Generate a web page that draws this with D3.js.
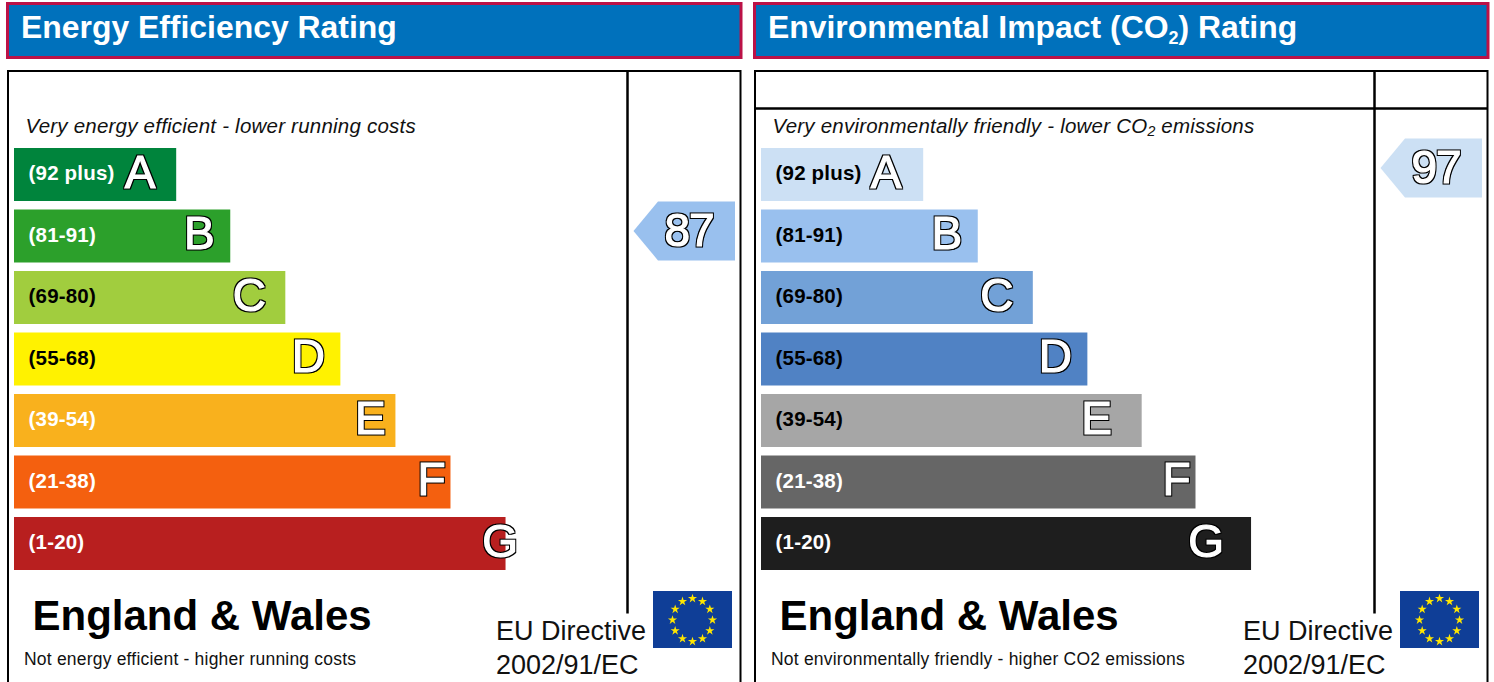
<!DOCTYPE html>
<html><head><meta charset="utf-8">
<script src="https://cdn.jsdelivr.net/npm/d3@7/dist/d3.min.js"></script>
<style>html,body{margin:0;padding:0;background:#fff}svg{display:block}text{font-family:"Liberation Sans",Arial,sans-serif}</style>
</head><body><svg id="c" width="1494" height="682"></svg>
<script>
const bands = ["A","B","C","D","E","F","G"];
const ranges = ["(92 plus)","(81-91)","(69-80)","(55-68)","(39-54)","(21-38)","(1-20)"];
const energyLengths = [32.7,43.6,54.7,65.8,76.9,88.0,99.1];
const co2Lengths = [32.7,43.7,54.8,65.8,76.75,87.6,98.8];
const energyScore = 87;
const co2Score = 97;
const titles = ["Energy Efficiency Rating","Environmental Impact (CO","2",") Rating"];
const topNotes = ["Very energy efficient - lower running costs","Very environmentally friendly - lower CO₂ emissions"];
const bottomNotes = ["Not energy efficient - higher running costs","Not environmentally friendly - higher CO2 emissions"];
const region = "England & Wales";
const directive = ["EU Directive","2002/91/EC"];

const energyColors = ["#00843c","#2ca02b","#a1cd3e","#fff200","#f9b11d","#f4600f","#b81f1f"];
const energyLabelColors = ["#fff","#fff","#000","#000","#fff","#fff","#fff"];
const co2Colors = ["#cce0f4","#99c0ee","#72a1d7","#5082c4","#a6a6a6","#666666","#1e1e1e"];
const co2LabelColors = ["#000","#000","#000","#000","#000","#fff","#fff"];
const energyLetterInset = [36,31,36,32,25,19,5.5];
const co2LetterInset = [37,31,36,32,45,19,45];

const svg = d3.select("#c");
const defs = svg.append("defs");
const f = defs.append("filter").attr("id","outline").attr("x","-20%").attr("y","-20%").attr("width","140%").attr("height","140%")
  .attr("color-interpolation-filters","sRGB");
f.append("feMorphology").attr("in","SourceAlpha").attr("operator","dilate").attr("radius",1).attr("result","d");
f.append("feFlood").attr("flood-color","#000").attr("result","k");
f.append("feComposite").attr("in","k").attr("in2","d").attr("operator","in").attr("result","o");
const fm = f.append("feMerge");
fm.append("feMergeNode").attr("in","o");
fm.append("feMergeNode").attr("in","SourceGraphic");

const x = d3.scaleLinear().domain([0,100]).range([0,496]);
const y = d3.scaleBand().domain(bands).range([148,570]).paddingInner(8.5/61.5).paddingOuter(0).align(0);
const scoreY = d3.scaleLinear().domain([0,100]).range([779,149]);

function outlined(sel){
  return sel.attr("fill","#fff").attr("stroke","#fff").attr("stroke-width",1.2).attr("stroke-linejoin","miter").attr("filter","url(#outline)");
}
function panel(ox, o){
  const g = svg.append("g").attr("transform",`translate(${ox},0)`);
  g.append("rect").attr("x",7.5).attr("y",3.5).attr("width",733.5).attr("height",54)
    .attr("fill","#0071bc").attr("stroke","#bb1247").attr("stroke-width",3);
  const t = g.append("text").attr("x",21).attr("y",38).attr("fill","#fff").attr("font-weight","bold").attr("font-size",31.9);
  o.title.forEach((s,i)=>{
    const ts=t.append("tspan").text(s);
    if(o.title.length>1 && i===1) ts.attr("font-size",18).attr("dy",6);
    if(o.title.length>1 && i===2) ts.attr("dy",-6);
  });
  g.append("rect").attr("x",8).attr("y",71).attr("width",732.5).attr("height",640)
    .attr("fill","#fff").attr("stroke","#000").attr("stroke-width",2);
  g.append("line").attr("x1",627.5).attr("x2",627.5).attr("y1",71).attr("y2",613.5).attr("stroke","#000").attr("stroke-width",2.5);
  if(o.rule) g.append("line").attr("x1",8).attr("x2",740.5).attr("y1",108.5).attr("y2",108.5).attr("stroke","#000").attr("stroke-width",2.5);
  g.append("text").attr("x",25.5).attr("y",133).attr("font-style","italic").attr("font-size",20.5).attr("letter-spacing",0.22).attr("fill","#111").text(o.top);
  const row = g.selectAll("g.row").data(bands).join("g").attr("class","row");
  row.append("rect").attr("x",14).attr("y",d=>y(d)).attr("height",y.bandwidth())
    .attr("width",(d,i)=>x(o.lengths[i])).attr("fill",(d,i)=>o.colors[i]);
  row.append("text").attr("x",28.5).attr("y",d=>y(d)+32).attr("font-weight","bold").attr("font-size",20.5).attr("letter-spacing",0.2)
    .attr("fill",(d,i)=>o.labels[i]).text((d,i)=>ranges[i]);
  outlined(row.append("text").attr("x",(d,i)=>14+x(o.lengths[i])-o.inset[i])
    .attr("text-anchor","middle").attr("y",d=>y(d)+39.5).attr("font-size",46).text(d=>d));
  const cy = scoreY(o.score);
  const arrow = d3.line().x(d=>d[0]).y(d=>cy+d[1]);
  g.append("path").attr("d",arrow([[633.5,0],[658,-29.5],[735,-29.5],[735,29.5],[658,29.5]])+"Z").attr("fill",o.arrow);
  outlined(g.append("text").attr("x",689).attr("y",cy+15.5).attr("text-anchor","middle").attr("font-size",46).attr("letter-spacing",-1).text(o.score));
  g.append("text").attr("x",32.5).attr("y",630).attr("font-weight","bold").attr("font-size",42).attr("fill","#000").text(region);
  g.append("text").attr("x",24).attr("y",665).attr("font-size",17.5).attr("letter-spacing",0.2).attr("fill","#111").text(o.bottom);
  directive.forEach((s,i)=>g.append("text").attr("x",496).attr("y",640+i*34).attr("font-size",27).attr("fill","#111").text(s));
  g.append("rect").attr("x",653).attr("y",591).attr("width",79).attr("height",57).attr("fill","#0f3e97");
  const star = d3.symbol().type(d3.symbolStar).size(26);
  g.selectAll("path.star").data(d3.range(12)).join("path").attr("class","star").attr("d",star).attr("fill","#ffe600")
    .attr("transform",d=>{const a=d/12*2*Math.PI;return `translate(${692.5+Math.sin(a)*20},${620-Math.cos(a)*21.5})`;});
}
panel(0,{title:[titles[0]],top:topNotes[0],bottom:bottomNotes[0],lengths:energyLengths,colors:energyColors,labels:energyLabelColors,inset:energyLetterInset,score:energyScore,arrow:"#99c0ee",rule:false});
panel(747,{title:titles.slice(1),top:topNotes[1],bottom:bottomNotes[1],lengths:co2Lengths,colors:co2Colors,labels:co2LabelColors,inset:co2LetterInset,score:co2Score,arrow:"#cce0f4",rule:true});
</script></body></html>
